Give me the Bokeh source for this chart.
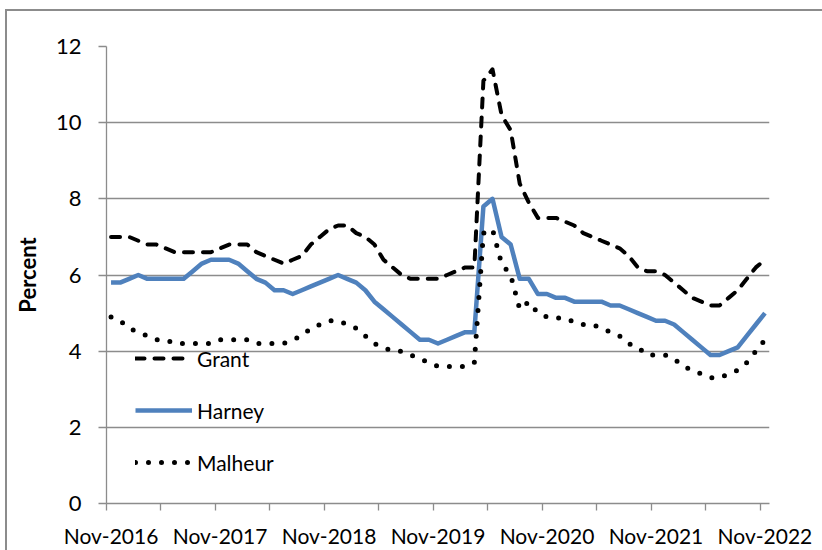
from bokeh.plotting import figure
from bokeh.models import FixedTicker, Legend, LegendItem, ColumnDataSource, Range1d
from bokeh.embed import file_html
from bokeh.resources import INLINE

# ---- data (monthly, Nov-2016 .. Nov-2022) ----
month_index = list(range(73))

grant = [7.0, 7.0, 7.0, 6.9, 6.8, 6.8, 6.7, 6.6, 6.6, 6.6, 6.6, 6.6,
         6.7, 6.8, 6.8, 6.8, 6.6, 6.5, 6.4, 6.3, 6.4, 6.5, 6.8, 7.0,
         7.2, 7.3, 7.3, 7.1, 7.0, 6.8, 6.4, 6.2, 6.0, 5.9, 5.9, 5.9,
         5.9, 6.0, 6.1, 6.2, 6.2, 11.1, 11.4, 10.2, 9.8, 8.4, 7.9, 7.5,
         7.5, 7.5, 7.4, 7.3, 7.1, 7.0, 6.9, 6.8, 6.7, 6.5, 6.2, 6.1,
         6.1, 6.0, 5.8, 5.6, 5.4, 5.3, 5.2, 5.2, 5.4, 5.6, 5.9, 6.2,
         6.4]

harney = [5.8, 5.8, 5.9, 6.0, 5.9, 5.9, 5.9, 5.9, 5.9, 6.1, 6.3, 6.4,
          6.4, 6.4, 6.3, 6.1, 5.9, 5.8, 5.6, 5.6, 5.5, 5.6, 5.7, 5.8,
          5.9, 6.0, 5.9, 5.8, 5.6, 5.3, 5.1, 4.9, 4.7, 4.5, 4.3, 4.3,
          4.2, 4.3, 4.4, 4.5, 4.5, 7.8, 8.0, 7.0, 6.8, 5.9, 5.9, 5.5,
          5.5, 5.4, 5.4, 5.3, 5.3, 5.3, 5.3, 5.2, 5.2, 5.1, 5.0, 4.9,
          4.8, 4.8, 4.7, 4.5, 4.3, 4.1, 3.9, 3.9, 4.0, 4.1, 4.4, 4.7,
          5.0]

malheur = [4.9, 4.8, 4.6, 4.5, 4.4, 4.3, 4.3, 4.2, 4.2, 4.2, 4.2, 4.2,
           4.3, 4.3, 4.3, 4.3, 4.2, 4.2, 4.2, 4.2, 4.3, 4.4, 4.6, 4.7,
           4.8, 4.8, 4.7, 4.6, 4.4, 4.2, 4.1, 4.0, 4.0, 3.9, 3.8, 3.7,
           3.6, 3.6, 3.6, 3.6, 3.7, 7.1, 7.2, 6.3, 6.0, 5.1, 5.3, 5.0,
           4.9, 4.9, 4.8, 4.8, 4.7, 4.7, 4.6, 4.5, 4.4, 4.2, 4.1, 3.9,
           3.9, 3.9, 3.8, 3.6, 3.5, 3.4, 3.3, 3.3, 3.4, 3.5, 3.7, 4.0,
           4.3]

x_tick_labels = ["Nov-2016", "Nov-2017", "Nov-2018", "Nov-2019",
                 "Nov-2020", "Nov-2021", "Nov-2022"]
x_label_positions = [0, 12, 24, 36, 48, 60, 72]
x_tick_marks = [-0.5 + 6 * k for k in range(13)]
y_ticks = [0, 2, 4, 6, 8, 10, 12]

series_names = ["Grant", "Harney", "Malheur"]

# ---- figure ----
GRAY = "#8c8c8c"
FONT = "Lato"

source = ColumnDataSource(dict(x=month_index, grant=grant, harney=harney, malheur=malheur))

p = figure(width=822, height=550, output_backend="svg", toolbar_location=None,
           x_range=Range1d(-0.5, 72.5), y_range=Range1d(0, 12),
           min_border_left=106, min_border_right=53, min_border_top=46,
           min_border_bottom=47)
p.outline_line_color = None
p.background_fill_color = "white"
p.border_fill_color = None

p.xgrid.visible = False
p.ygrid.grid_line_color = GRAY
p.ygrid.grid_line_width = 1.3

# y axis
p.yaxis.ticker = FixedTicker(ticks=y_ticks)
p.yaxis.major_tick_in = 0
p.yaxis.major_tick_out = 8
p.yaxis.major_tick_line_color = GRAY
p.yaxis.major_tick_line_width = 1.3
p.yaxis.minor_tick_line_color = None
p.yaxis.axis_line_color = GRAY
p.yaxis.axis_line_width = 1.3
p.yaxis.major_label_text_font = FONT
p.yaxis.major_label_text_font_size = "22px"
p.yaxis.major_label_text_color = "black"
p.yaxis.major_label_standoff = 17
p.yaxis.axis_label = "Percent"
p.yaxis.axis_label_text_font = FONT
p.yaxis.axis_label_text_font_size = "22px"
p.yaxis.axis_label_text_font_style = "bold"
p.yaxis.axis_label_text_color = "black"
p.yaxis.axis_label_standoff = 12

# x axis
p.xaxis.ticker = FixedTicker(ticks=x_label_positions, minor_ticks=x_tick_marks)
p.xaxis.major_label_overrides = {pos: lab for pos, lab in zip(x_label_positions, x_tick_labels)}
p.xaxis.major_tick_in = 0
p.xaxis.major_tick_out = 0
p.xaxis.major_tick_line_color = None
p.xaxis.minor_tick_in = 0
p.xaxis.minor_tick_out = 7
p.xaxis.minor_tick_line_color = GRAY
p.xaxis.minor_tick_line_width = 1.3
p.xaxis.axis_line_color = GRAY
p.xaxis.axis_line_width = 1.3
p.xaxis.major_label_text_font = FONT
p.xaxis.major_label_text_font_size = "21px"
p.xaxis.major_label_text_color = "black"
p.xaxis.major_label_standoff = 12

# series
r_grant = p.line("x", "grant", source=source, line_color="black", line_width=4,
                 line_dash="9 10", line_cap="round", line_join="round")
r_harney = p.line("x", "harney", source=source, line_color="#4F81BD", line_width=4.5,
                  line_join="round")
r_malheur = p.line("x", "malheur", source=source, line_color="black", line_width=5,
                   line_dash="0 13", line_cap="round", line_join="round")

legend = Legend(items=[LegendItem(label=series_names[0], renderers=[r_grant]),
                       LegendItem(label=series_names[1], renderers=[r_harney]),
                       LegendItem(label=series_names[2], renderers=[r_malheur])],
                location=(29, 26), orientation="vertical",
                glyph_width=57, glyph_height=30, label_height=30,
                label_standoff=5, spacing=22, padding=0, margin=0,
                border_line_color=None, background_fill_alpha=0,
                label_text_font=FONT, label_text_font_size="21px",
                label_text_color="black")
p.add_layout(legend)

# outer chart-area border (page background behind the transparent canvas)
p.styles = {"background": ("linear-gradient(#8c8c8c, #8c8c8c) 5px 9px / 2px 100% no-repeat, "
                           "linear-gradient(#8c8c8c, #8c8c8c) 5px 9px / 100% 2px no-repeat, "
                           "white")}

open("out.html", "w").write(file_html(p, INLINE))
